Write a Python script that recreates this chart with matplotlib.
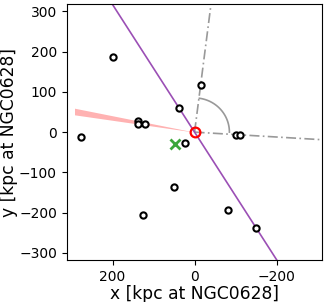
import numpy as np
import matplotlib
matplotlib.use("Agg")
import matplotlib.pyplot as plt

# satellite positions [kpc]
sat_x = [198, -15, 37, 138, 138, 121, 276, 23, -101, -112, 51, 126, -82, -151]
sat_y = [187, 117, 60, 27, 21, 20, -12, -26, -6, -8, -136, -207, -193, -239]

# host + offset centre
host_xy = (0, 0)
cen_xy = (48, -29)

# major axis (slope in data coords)
major_slope = 1.585
# gray reference directions (end points)
ref_a = (-40, 317)
ref_b = (-313, -19)
arc_r = 85
arc_deg = 82

# pink wedge: slopes of the two edges, x extent
wedge_lo, wedge_hi = 43 / 293, 59.5 / 293
wedge_xmax = 293

lim_x = (312, -312)
lim_y = (-318, 318)

fig = plt.figure(figsize=(3.27, 3.02), dpi=100)
ax = fig.add_axes([0.204, 0.139, 0.782, 0.847])

# major axis line
xx = np.array([400, -400])
ax.plot(xx, major_slope * xx, color='#9b4fb5', lw=1.2, zorder=2)

# reference lines + arc
ax.plot([0, ref_a[0]], [0, ref_a[1]], color='#999999', ls=(0, (6, 2, 1, 2)), lw=1.2, zorder=1)
ax.plot([0, ref_b[0]], [0, ref_b[1]], color='#999999', ls=(0, (6, 2, 1, 2)), lw=1.2, zorder=1)
th = np.radians(np.linspace(0, arc_deg, 60))
ax.plot(-arc_r * np.cos(th), arc_r * np.sin(th), color='#999999', lw=1.2, zorder=1)

# wedge
wx = np.linspace(0, wedge_xmax, 50)
ax.fill_between(wx, wedge_lo * wx, wedge_hi * wx, color='red', alpha=0.3, lw=0, zorder=1)

# points
ax.plot(sat_x, sat_y, 'o', mfc='white', mec='black', mew=1.5, ms=4.5, ls='none', zorder=3)
ax.plot(*host_xy, 'o', mfc='none', mec='red', mew=1.6, ms=7, zorder=4)
ax.plot(*cen_xy, 'x', color='#3aa63a', mew=2, ms=7, zorder=4)

ax.set_xlim(*lim_x)
ax.set_ylim(*lim_y)
ax.set_xticks([200, 0, -200])
ax.set_yticks([-300, -200, -100, 0, 100, 200, 300])
ax.tick_params(labelsize=10)
ax.set_xlabel('x [kpc at NGC0628]', fontsize=12.3, labelpad=1)
ax.set_ylabel('y [kpc at NGC0628]', fontsize=12.3, labelpad=1)

fig.savefig('out.png', dpi=100)
